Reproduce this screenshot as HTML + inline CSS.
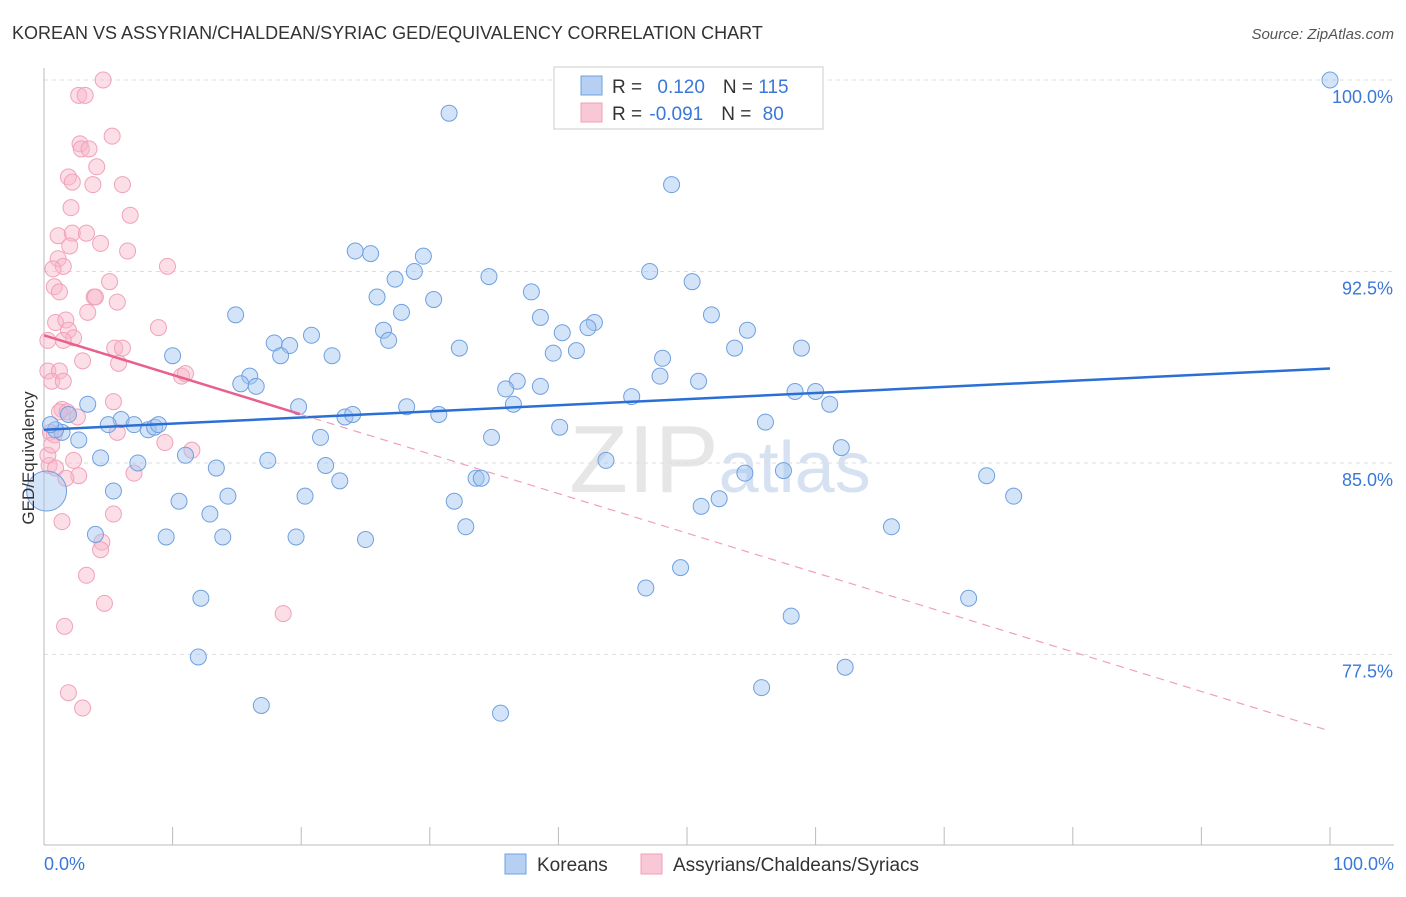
<!DOCTYPE html>
<html><head><meta charset="utf-8"><style>
body{margin:0;background:#fff;font-family:"Liberation Sans",sans-serif;}
svg text{font-family:"Liberation Sans",sans-serif;}
</style></head><body>
<svg id="chart" width="1406" height="892" viewBox="0 0 1406 892" xmlns="http://www.w3.org/2000/svg">
<text x="12" y="39" font-size="18" fill="#333">KOREAN VS ASSYRIAN/CHALDEAN/SYRIAC GED/EQUIVALENCY CORRELATION CHART</text>
<text x="1394" y="39" font-size="15" fill="#555" text-anchor="end" font-style="italic">Source: ZipAtlas.com</text>
<text x="720" y="492" font-size="96" fill="#e6e6e6" text-anchor="middle" font-family="Liberation Serif">ZIP<tspan fill="#d6e2f2" font-family="Liberation Sans" font-size="72">atlas</tspan></text>
<g id="grid"></g>
<g id="axes"></g>
<g id="marks"></g>
<g id="trends"></g>
<text transform="translate(34,458) rotate(-90)" font-size="17" fill="#333" text-anchor="middle">GED/Equivalency</text>
<g>
<rect x="554" y="67" width="269" height="62" fill="#fff" stroke="#ccc"/>
<rect x="581" y="76" width="21" height="19" fill="#b5d0f3" stroke="#6fa0e0"/>
<rect x="581" y="103" width="21" height="19" fill="#f9c8d6" stroke="#f0a0b8"/>
<text x="612" y="93" font-size="19" fill="#333">R = <tspan fill="#3a78d8" dx="10">0.120</tspan><tspan dx="18" fill="#333">N = </tspan><tspan fill="#3a78d8">115</tspan></text>
<text x="612" y="120" font-size="19" fill="#333">R = <tspan fill="#3a78d8" dx="2">-0.091</tspan><tspan dx="18" fill="#333">N = </tspan><tspan fill="#3a78d8" dx="6">80</tspan></text>
</g>
<g>
<rect x="505" y="854" width="21" height="20" fill="#b5d0f3" stroke="#6fa0e0"/>
<text x="537" y="871" font-size="19" fill="#333">Koreans</text>
<rect x="641" y="854" width="21" height="20" fill="#f9c8d6" stroke="#f0a0b8"/>
<text x="673" y="871" font-size="19" fill="#333">Assyrians/Chaldeans/Syriacs</text>
</g>
</svg>
<script>
const yTicks=[100,92.5,85,77.5];
const yTickLabels=["100.0%","92.5%","85.0%","77.5%"];
const blueX=[40.8,31.5,100,48.8,24.2,25.4,29.5,28.8,27.3,34.6,47.1,50.4,37.9,25.9,30.3,14.9,27.8,38.6,51.9,42.8,42.3,40.3,54.7,20.8,26.4,26.8,17.9,19.1,18.4,22.4,32.3,39.6,41.4,48.1,53.7,58.9,10.0,16.0,15.3,16.5,36.8,35.9,38.6,47.9,50.9,45.7,58.4,60.0,61.1,19.8,28.2,36.5,30.7,23.4,24.0,56.1,3.4,1.9,6.0,5.0,7.0,8.1,8.6,8.9,1.4,2.7,21.5,34.8,40.1,62.0,4.4,7.3,11.0,17.4,21.9,13.4,43.7,54.5,57.5,23.0,33.6,34.0,73.3,75.4,5.4,14.3,20.3,10.5,31.9,51.1,52.5,12.9,32.8,65.9,4.0,9.5,13.9,19.6,25.0,49.5,46.8,12.2,71.9,58.1,12.0,62.3,55.8,16.9,35.5,0.9,0.5,0.2];
const blueY=[100,98.7,100,95.9,93.3,93.2,93.1,92.5,92.2,92.3,92.5,92.1,91.7,91.5,91.4,90.8,90.9,90.7,90.8,90.5,90.3,90.1,90.2,90.0,90.2,89.8,89.7,89.6,89.2,89.2,89.5,89.3,89.4,89.1,89.5,89.5,89.2,88.4,88.1,88.0,88.2,87.9,88.0,88.4,88.2,87.6,87.8,87.8,87.3,87.2,87.2,87.3,86.9,86.8,86.9,86.6,87.3,86.9,86.7,86.5,86.5,86.3,86.4,86.5,86.2,85.9,86.0,86.0,86.4,85.6,85.2,85.0,85.3,85.1,84.9,84.8,85.1,84.6,84.7,84.3,84.4,84.4,84.5,83.7,83.9,83.7,83.7,83.5,83.5,83.3,83.6,83.0,82.5,82.5,82.2,82.1,82.1,82.1,82.0,80.9,80.1,79.7,79.7,79.0,77.4,77.0,76.2,75.5,75.2,86.3,86.5,83.9];
const pinkX=[4.6,2.7,3.2,5.3,2.8,2.9,3.5,4.1,1.9,2.2,3.8,6.1,2.1,6.7,1.1,2.2,3.3,2.0,4.4,6.5,1.1,1.5,9.6,0.7,5.1,0.8,1.2,3.9,4.0,5.7,3.4,0.9,1.7,1.9,8.9,0.3,2.3,1.5,3.0,5.5,6.1,5.8,0.3,1.2,0.6,1.5,10.7,11.0,5.4,1.4,1.2,1.8,2.6,0.5,0.8,5.7,9.4,11.5,2.3,0.4,0.9,2.7,1.7,7.0,5.4,1.4,4.5,4.4,3.3,4.7,18.6,1.6,1.9,3.0,0.3,0.6];
const pinkY=[100,99.4,99.4,97.8,97.5,97.3,97.3,96.6,96.2,96.0,95.9,95.9,95.0,94.7,93.9,94.0,94.0,93.5,93.6,93.3,93.0,92.7,92.7,92.6,92.1,91.9,91.7,91.5,91.5,91.3,90.9,90.5,90.6,90.2,90.3,89.8,89.9,89.8,89.0,89.5,89.5,88.9,88.6,88.6,88.2,88.2,88.4,88.5,87.4,87.1,87.0,87.0,86.8,86.2,86.1,86.2,85.8,85.5,85.1,84.9,84.8,84.5,84.4,84.6,83.0,82.7,81.9,81.6,80.6,79.5,79.1,78.6,76.0,75.4,85.3,85.7];
const blueTrend=[86.3,88.7];
const pinkTrend=[90.0,74.5];
const pinkSolidEnd=19.9;

const NS="http://www.w3.org/2000/svg";
const X=v=>44+v*12.86;
const Y=v=>80+(100-v)*25.53;
function mk(tag,attrs,parent){const e=document.createElementNS(NS,tag);for(const k in attrs)e.setAttribute(k,attrs[k]);parent.appendChild(e);return e;}
const grid=document.getElementById('grid'),axes=document.getElementById('axes'),marks=document.getElementById('marks'),trends=document.getElementById('trends');
yTicks.forEach((t,i)=>{
 const l=mk('line',{x1:44,x2:1394,y1:Y(t),y2:Y(t),stroke:'#ddd','stroke-dasharray':'4,4'},grid);
 
 
 const tx=mk('text',{x:1393,y:Y(t)+23,'font-size':18,fill:'#3a78d8','text-anchor':'end'},axes);
 tx.textContent=yTickLabels[i];
 
 
});
const ax=mk('line',{x1:44,x2:44,y1:68,y2:845,stroke:'#bbb'},axes);


const bx=mk('line',{x1:44,x2:1394,y1:845,y2:845,stroke:'#bbb'},axes);


for(let i=0;i<=10;i++){
 const t=mk('line',{x1:X(i*10),x2:X(i*10),y1:827,y2:845,stroke:'#bbb'},axes);
 
 
}
const xl0=mk('text',{x:44,y:870,'font-size':18,fill:'#3a78d8'},axes);xl0.textContent='0.0%';


const xl1=mk('text',{x:1394,y:870,'font-size':18,fill:'#3a78d8','text-anchor':'end'},axes);xl1.textContent='100.0%';


pinkX.forEach((v,i)=>{
 const c=mk('circle',{cx:X(v),cy:Y(pinkY[i]),r:8,fill:'rgba(248,182,202,0.45)',stroke:'#f0a2ba','stroke-width':1},marks);
 
 
});
blueX.forEach((v,i)=>{
 const big=i===blueX.length-1;
 const c=mk('circle',{cx:X(v),cy:Y(blueY[i]),r:big?20:8,fill:'rgba(160,196,240,0.45)',stroke:'#6fa0e0','stroke-width':1},marks);
 
 
});
const bt=mk('line',{x1:X(0),y1:Y(blueTrend[0]),x2:X(100),y2:Y(blueTrend[1]),stroke:'#2a6fd6','stroke-width':2.5},trends);


const pAt=x=>pinkTrend[0]+(pinkTrend[1]-pinkTrend[0])*x/100;
const ps=mk('line',{x1:X(0),y1:Y(pinkTrend[0]),x2:X(pinkSolidEnd),y2:Y(pAt(pinkSolidEnd)),stroke:'#e8608e','stroke-width':2.5},trends);


const pd=mk('line',{x1:X(pinkSolidEnd),y1:Y(pAt(pinkSolidEnd)),x2:X(100),y2:Y(pinkTrend[1]),stroke:'#f0a0b8','stroke-width':1.2,'stroke-dasharray':'8,6'},trends);


</script>
</body></html>
